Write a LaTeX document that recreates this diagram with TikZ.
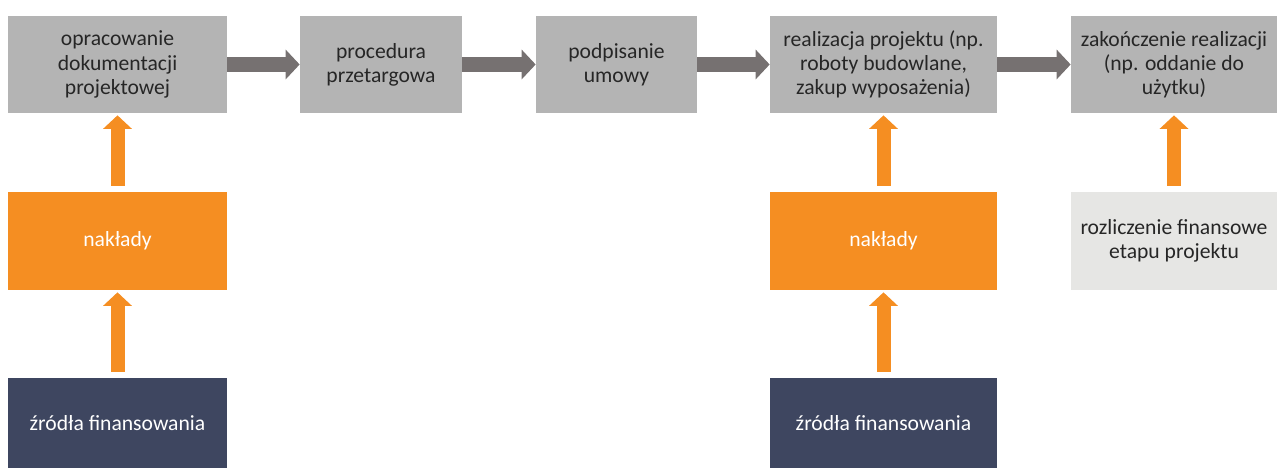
\documentclass[tikz,border=0pt]{standalone}
\usepackage{fontspec}
\setmainfont{Carlito}
\usetikzlibrary{arrows.meta}
\definecolor{boxgray}{RGB}{180,180,180}
\definecolor{arrgray}{RGB}{118,113,113}
\definecolor{naklorange}{RGB}{245,142,34}
\definecolor{navyblue}{RGB}{62,70,96}
\definecolor{palegray}{RGB}{230,230,228}

\begin{document}
\begin{tikzpicture}[
    every node/.style={font=\fontsize{12.3pt}{13.7pt}\selectfont, align=center, inner sep=0pt},
    stage/.style={fill=boxgray, text=black!85, minimum height=1.94cm},
    input/.style={fill=naklorange, text=white, minimum height=1.96cm},
    source/.style={fill=navyblue, text=white, minimum height=1.8cm},
    flow/.style={draw=arrgray, line width=0.3cm, -{Triangle[length=0.28cm, width=0.58cm]}},
    up/.style={draw=naklorange, line width=0.28cm, -{Triangle[length=0.27cm, width=0.56cm]},
        shorten <=0.12cm, shorten >=0.04cm}
]
    \useasboundingbox (0,0) rectangle (25.54,9.36);
    % top row
    \node[stage, minimum width=4.38cm] (dok) at (2.35,8.07) {opracowanie\\dokumentacji\\projektowej};
    \node[stage, minimum width=3.24cm] (przetarg) at (7.62,8.07) {procedura\\przetargowa};
    \node[stage, minimum width=3.22cm] (umowa) at (12.33,8.07) {podpisanie\\umowy};
    \node[stage, minimum width=4.54cm] (realiz) at (17.67,8.07) {realizacja projektu (np.\\roboty budowlane,\\zakup wyposażenia)};
    \node[stage, minimum width=4.12cm] (koniec) at (23.48,8.07) {zakończenie realizacji\\(np. oddanie do\\użytku)};
    % middle row
    \node[input, minimum width=4.38cm] (naklady1) at (2.35,4.54) {nakłady};
    \node[input, minimum width=4.54cm] (naklady2) at (17.67,4.54) {nakłady};
    \node[fill=palegray, text=black!85, minimum width=4.12cm, minimum height=1.96cm] (rozlicz) at (23.48,4.54) {rozliczenie finansowe\\etapu projektu};
    % bottom row
    \node[source, minimum width=4.38cm] (zrodla1) at (2.35,0.9) {źródła finansowania};
    \node[source, minimum width=4.54cm] (zrodla2) at (17.67,0.9) {źródła finansowania};

    \draw[flow] (dok) -- (przetarg);
    \draw[flow] (przetarg) -- (umowa);
    \draw[flow] (umowa) -- (realiz);
    \draw[flow] (realiz) -- (koniec);

    \draw[up] (naklady1) -- (dok);
    \draw[up] (zrodla1) -- (naklady1);
    \draw[up] (naklady2) -- (realiz);
    \draw[up] (zrodla2) -- (naklady2);
    \draw[up] (rozlicz) -- (koniec);
\end{tikzpicture}
\end{document}
